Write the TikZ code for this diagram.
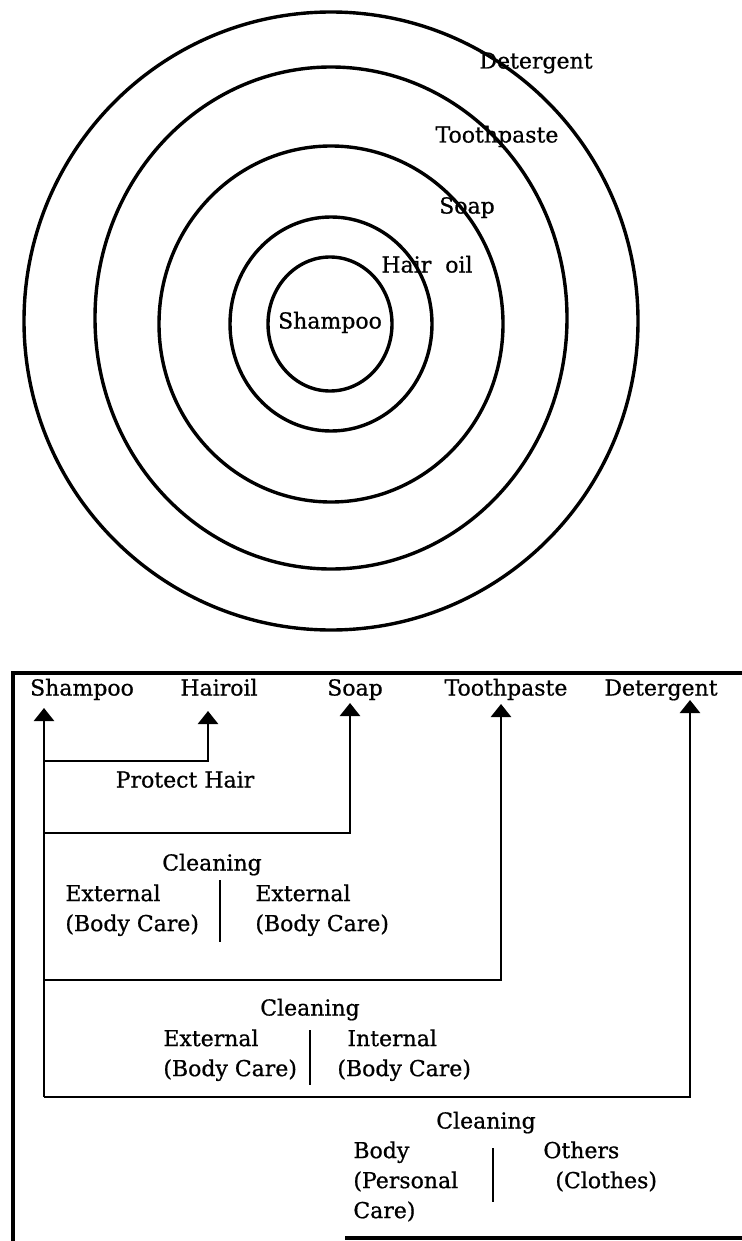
\documentclass[tikz,border=0pt]{standalone}
\usepackage{fontspec}
\setmainfont{DejaVu Serif}[FakeBold=0.8]
\usetikzlibrary{arrows.meta, positioning}
\tikzset{
  ring/.style={draw,line width=1.7pt},
  lbl/.style={inner sep=0pt,font=\fontsize{11}{15}\selectfont,text height=8pt,text depth=2.5pt},
  txt/.style={inner sep=0pt,align=left,font=\fontsize{11}{15}\selectfont},
  frame/.style={line width=1.6pt},
  line/.style={line width=1.3pt},
  up/.style={line width=1.3pt,-{Triangle[width=10pt,length=6.5pt]}}
}

\begin{document}
\begin{tikzpicture}[x=0.5pt,y=-0.5pt]
\useasboundingbox (0,0) rectangle (742,1241);
% rings
\draw[ring] (330,324) ellipse [x radius=62, y radius=67];
\draw[ring] (331,324) ellipse [x radius=101, y radius=107];
\draw[ring] (331,324) ellipse [x radius=172, y radius=178];
\draw[ring] (331,318) ellipse [x radius=236, y radius=251];
\draw[ring] (331,321) ellipse [x radius=307, y radius=309];
\node[lbl] (r-sham) at (330,323) {Shampoo};
\node[lbl] (r-hair) at (427,267) {Hair\ \ oil};
\node[lbl] (r-soap) at (467,208) {Soap};
\node[lbl] (r-tooth) at (497,137) {Toothpaste};
\node[lbl] (r-det) at (536,63) {Detergent};

% frame
\draw[frame] (742,673) -- (13,673) -- (13,1241);
\draw[frame] (345,1238) -- (742,1238);

% products
\node[lbl] (sham) at (82,690) {Shampoo};
\node[lbl] (hair) at (219,690) {Hairoil};
\node[lbl] (soap) at (355,690) {Soap};
\node[lbl] (tooth) at (506,690) {Toothpaste};
\node[lbl] (det) at (661,690) {Detergent};

\coordinate (t-sham) at (44,708);
\coordinate (t-hair) at (208,711);
\coordinate (t-soap) at (350,703);
\coordinate (t-tooth) at (501,704);
\coordinate (t-det) at (690,700);
\coordinate (b-hair) at (44,761);
\coordinate (b-soap) at (44,833);
\coordinate (b-tooth) at (44,980);
\coordinate (b-det) at (44,1097);
\draw[up] (b-det) -- (t-sham);
\draw[up] (b-hair) -| (t-hair);
\draw[up] (b-soap) -| (t-soap);
\draw[up] (b-tooth) -| (t-tooth);
\draw[up] (b-det) -| (t-det);

% groups
\node[lbl] (hairtxt) at (185,782) {Protect Hair};

\node[lbl] (clean1) at (212,865) {Cleaning};
\node[txt, anchor=north west] (ext1) at (65,884) {External\\(Body Care)};
\node[txt, anchor=north west] (ext2) at (255,884) {External\\(Body Care)};
\draw[line] (220,880) -- (220,942);

\node[lbl] (clean2) at (310,1010) {Cleaning};
\node[txt, anchor=north west] (ext3) at (163,1029) {External\\(Body Care)};
\node[txt, anchor=north west] (int3) at (337,1029) {\hspace*{5pt}Internal\\(Body Care)};
\draw[line] (310,1030) -- (310,1085);

\node[lbl] (clean3) at (486,1123) {Cleaning};
\node[txt, anchor=north west] (body) at (353,1141) {Body\\(Personal\\Care)};
\node[txt, anchor=north west] (others) at (543,1141) {Others\\\hspace*{6pt}(Clothes)};
\draw[line] (493,1148) -- (493,1202);
\end{tikzpicture}
\end{document}
